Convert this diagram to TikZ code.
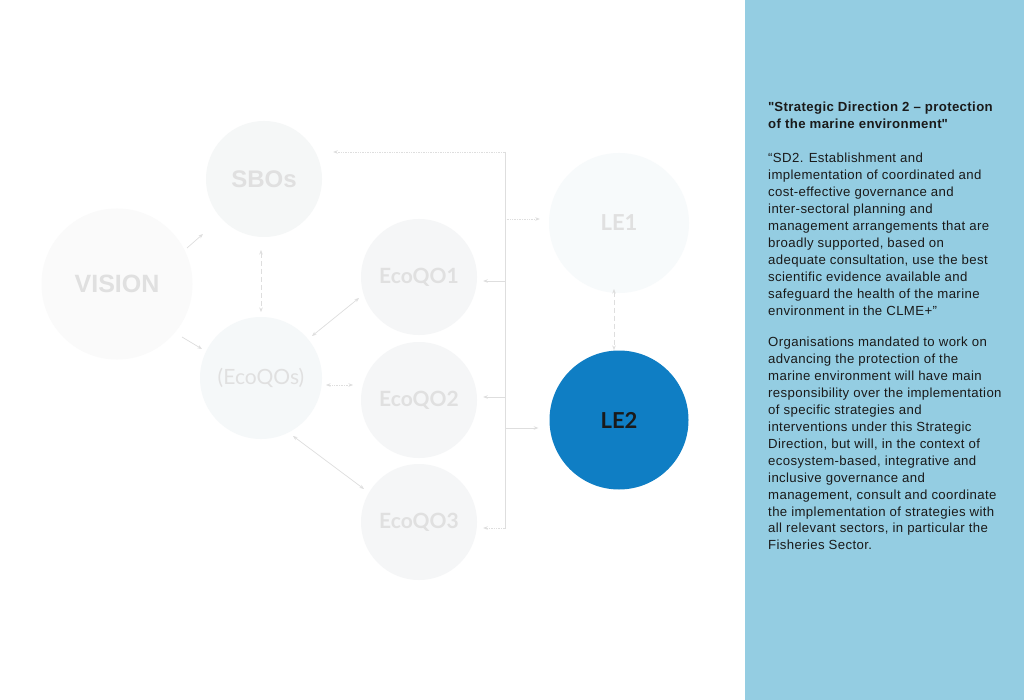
\documentclass[tikz,border=0pt]{standalone}
\usepackage{fontspec}
\setmainfont{Liberation Sans}
\newfontfamily\lato{Lato}
\newfontfamily\paneltext[LetterSpace=2.8]{Liberation Sans}
\usetikzlibrary{arrows.meta,calc}
\definecolor{panel}{HTML}{94CDE2}
\definecolor{lineg}{HTML}{DEDEDE}
\definecolor{txtg}{HTML}{E0E0E0}
\definecolor{fillA}{HTML}{FAFAFA}
\definecolor{fillB}{HTML}{F5F7F7}
\definecolor{fillC}{HTML}{F5F8F9}
\definecolor{fillD}{HTML}{F5F6F7}
\definecolor{fillE}{HTML}{F7FAFB}
\definecolor{leblue}{HTML}{0F7EC4}
\definecolor{dark}{HTML}{1A1A1A}
\tikzset{
  circ/.style={circle,inner sep=0pt,text=txtg},
  conn/.style={draw=lineg,line width=0.7pt,-{Stealth[length=4.5pt,width=3.5pt]}},
  bconn/.style={draw=lineg,line width=0.7pt,{Stealth[length=4.5pt,width=3.5pt]}-{Stealth[length=4.5pt,width=3.5pt]}},
  txt/.style={anchor=base west,inner sep=0pt,text=dark,font=\paneltext\fontsize{13.2}{15}\selectfont},
}
\begin{document}
\begin{tikzpicture}[x=1pt,y=-1pt]
\useasboundingbox (0,0) rectangle (1024,700);
\fill[white] (0,0) rectangle (1024,700);
\fill[panel] (745,0) rectangle (1024,700);

% circles
\node[circ,fill=fillA,minimum size=151pt,font=\fontsize{25}{25}\selectfont\bfseries] (vis) at (117,284) {VISION};
\node[circ,fill=fillB,minimum size=116pt,font=\fontsize{24}{24}\selectfont\bfseries] (sbo) at (264,179) {SBOs};
\node[circ,fill=fillC,minimum size=122pt,font=\lato\fontsize{21}{21}\selectfont] (eco) at (261,378) {(EcoQOs)};
\node[circ,fill=fillD,minimum size=116pt,font=\lato\bfseries\fontsize{21}{21}\selectfont] (e1) at (419,277) {EcoQO1};
\node[circ,fill=fillD,minimum size=116pt,font=\lato\bfseries\fontsize{21}{21}\selectfont] (e2) at (419,400) {EcoQO2};
\node[circ,fill=fillD,minimum size=116pt,font=\lato\bfseries\fontsize{21}{21}\selectfont] (e3) at (419,522) {EcoQO3};
\node[circ,fill=fillE,minimum size=140pt,font=\lato\bfseries\fontsize{22}{22}\selectfont] (le1) at (619,223) {LE1};
\node[circ,fill=leblue,minimum size=139pt,text=dark,font=\lato\bfseries\fontsize{22}{22}\selectfont] (le2) at (619,420) {LE2};

% bracket
\coordinate (bt) at (505,152);
\coordinate (bb) at (505,529);
\coordinate (b1) at (505,281);
\coordinate (b2) at (505,397);
\coordinate (b3) at (505,528);
\coordinate (bl1) at (505,219);
\coordinate (bl2) at (505,428);
\draw[draw=lineg,line width=0.7pt] (bt) -- (bb);
\draw[conn,shorten >=11pt,densely dotted] (bt) -- (bt -| sbo.east);
\draw[conn,shorten >=9pt,densely dotted] (bl1) -- (bl1 -| le1.west);
\draw[conn,shorten >=11pt] (bl2) -- (bl2 -| le2.west);
\draw[conn,shorten >=6pt] (b1) -- (b1 -| e1.east);
\draw[conn,shorten >=6pt] (b2) -- (b2 -| e2.east);
\draw[conn,shorten >=6pt,densely dotted] (b3) -- (b3 -| e3.east);

% other connectors
\draw[conn] ($(vis.center)+(70,-36)$) -- ($(sbo.center)+(-61,55)$);
\draw[conn] ($(vis.center)+(65,53)$) -- ($(eco.center)+(-59,-29)$);
\draw[bconn,dash pattern=on 5pt off 3pt] ($(sbo.center)+(-3,71)$) -- ($(eco.center)+(0,-66)$);
\draw[bconn] ($(eco.center)+(51,-42)$) -- ($(e1.center)+(-60,21)$);
\draw[bconn,densely dotted] ($(eco.center)+(65,7)$) -- ($(e2.center)+(-66,-15)$);
\draw[bconn] ($(eco.center)+(32,58)$) -- ($(e3.center)+(-55,-33)$);
\draw[bconn,dash pattern=on 5pt off 3pt] ($(le1.center)+(-5,66)$) -- ($(le2.center)+(-5,-70)$);

% panel text
\node[txt,font=\paneltext\fontsize{13.2}{15}\selectfont\bfseries] (t1) at (768,112) {\textquotedbl Strategic Direction 2 – protection};
\node[txt,font=\paneltext\fontsize{13.2}{15}\selectfont\bfseries] (t2) at (768,129) {of the marine environment\textquotedbl};
\foreach \t [count=\i] in {
 {“SD2. Establishment and},
 {implementation of coordinated and},
 {cost-effective governance and},
 {inter-sectoral planning and},
 {management arrangements that are},
 {broadly supported, based on},
 {adequate consultation, use the best},
 {scientific evidence available and},
 {safeguard the health of the marine},
 {environment in the CLME+”}}
 \node[txt] (p\i) at (768,{162.5+(\i-1)*16.95}) {\t};
\foreach \t [count=\i] in {
 {Organisations mandated to work on},
 {advancing the protection of the},
 {marine environment will have main},
 {responsibility over the implementation},
 {of specific strategies and},
 {interventions under this Strategic},
 {Direction, but will, in the context of},
 {ecosystem-based, integrative and},
 {inclusive governance and},
 {management, consult and coordinate},
 {the implementation of strategies with},
 {all relevant sectors, in particular the},
 {Fisheries Sector.}}
 \node[txt] (q\i) at (768,{346.5+(\i-1)*16.95}) {\t};
\end{tikzpicture}
\end{document}
